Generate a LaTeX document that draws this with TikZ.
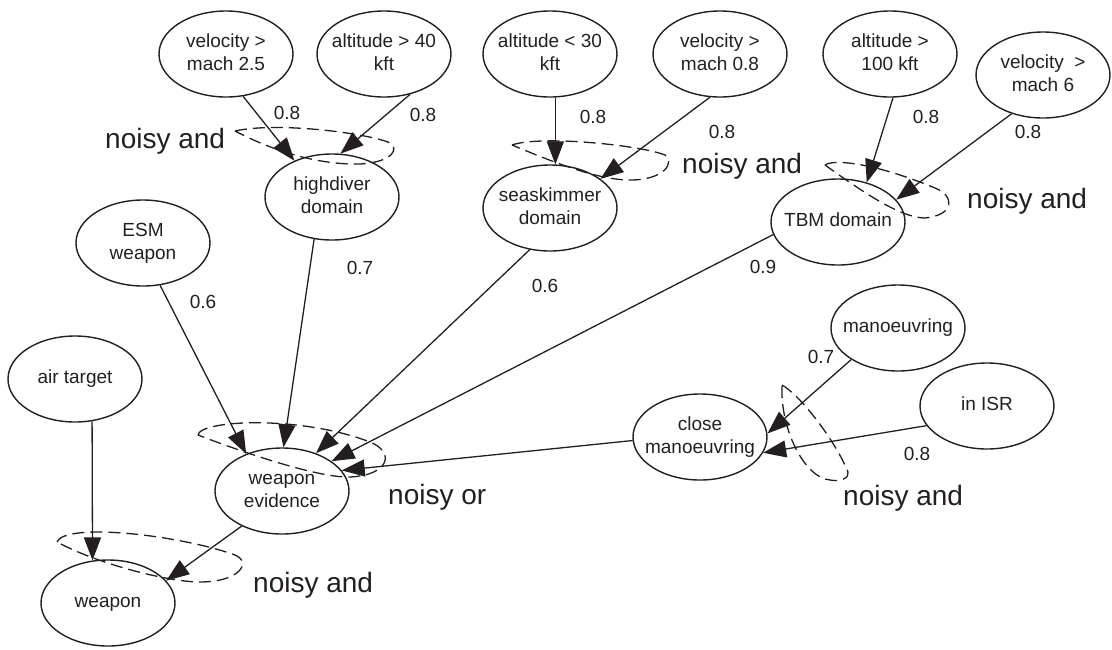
\documentclass[tikz,border=0pt]{standalone}
\usepackage{fontspec}
\setmainfont{Liberation Sans}
\usetikzlibrary{shapes.geometric,arrows.meta}
\definecolor{ink}{HTML}{231F20}
% two centred lines of zero width, so the ellipse keeps its fixed size
\newcommand{\twoline}[1]{\makebox[0pt]{\begin{tabular}{@{}c@{}}#1\end{tabular}}}

\tikzset{
  var/.style={ellipse, draw=ink, line width=1.4pt, minimum width=134pt,
    minimum height=86pt, inner sep=0pt, text=ink,
    font=\fontsize{19}{23}\selectfont},
  link/.style={draw=ink, line width=1.3pt, -{Triangle[length=23pt,width=17pt]}},
  prob/.style={font=\fontsize{19}{23}\selectfont, text=ink, inner sep=0pt},
  gate/.style={font=\fontsize{28}{32}\selectfont, text=ink, inner sep=0pt,
    anchor=base west},
  loop/.style={draw=ink, line width=1.3pt, dash pattern=on 12pt off 6pt},
}

\begin{document}
\begin{tikzpicture}[x=1pt,y=-1pt]
\useasboundingbox (0,0) rectangle (1112,649);

% variables
\node[var] (v25)  at (226,54)  {\twoline{velocity >\\mach 2.5}};
\node[var] (a40)  at (384,54)  {\twoline{altitude > 40\\kft}};
\node[var] (a30)  at (550,54)  {\twoline{altitude < 30\\kft}};
\node[var] (v08)  at (720,54)  {\twoline{velocity >\\mach 0.8}};
\node[var] (a100) at (890,54)  {\twoline{altitude >\\100 kft}};
\node[var] (v6)   at (1043,75) {\twoline{velocity\ \ >\\mach 6}};
\node[var] (hd)   at (332,197) {\twoline{highdiver\\domain}};
\node[var] (ss)   at (550,208) {\twoline{seaskimmer\\domain}};
\node[var] (tbm)  at (838,222) {\twoline{TBM domain}};
\node[var] (esm)  at (143,243) {\twoline{ESM\\weapon}};
\node[var] (air)  at (75,379)  {\twoline{air target}};
\node[var] (we)   at (282,491) {\twoline{weapon\\evidence}};
\node[var] (wp)   at (108,603) {\twoline{weapon}};
\node[var] (cm)   at (700,437) {\twoline{close\\manoeuvring}};
\node[var] (man)  at (898,328) {\twoline{manoeuvring}};
\node[var] (isr)  at (987,406) {\twoline{in ISR}};

% causal links
\draw[link] (v25.-68.4)  -- (hd.136.5);
\draw[link] (a40.-57.6)  -- (hd.79.2);
\draw[link] (a30.-83.4)  -- (ss.83.7);
\draw[link] (v08.-103.1) -- (ss.30.8);
\draw[link] (a100.-86)   -- (tbm.54);
\draw[link] (v6.-129.2)  -- (tbm.21.3);
\draw[link] (hd.-113.8)  -- (we.88.7);
\draw[link] (esm.-68.9)  -- (we.134.2);
\draw[link] (ss.-116.6)  -- (we.48.1);
\draw[link] (tbm.-169.8) -- (we.31.8);
\draw[link] (cm.-177.4)  -- (we.19.3);
\draw[link] (we.-139.4)  -- (wp.21.3);
\draw[link] (air.-68.9)  -- (wp.110.4);
\draw[link] (man.-146.3) -- (cm.3.4);
\draw[link] (isr.-162.1) -- (cm.-14.7);

% link strengths
\node[prob] (p1)  at (287,113) {0.8};
\node[prob] (p2)  at (423,115) {0.8};
\node[prob] (p3)  at (593,117) {0.8};
\node[prob] (p4)  at (722,132) {0.8};
\node[prob] (p5)  at (926,117) {0.8};
\node[prob] (p6)  at (1028,132) {0.8};
\node[prob] (p7)  at (360,268) {0.7};
\node[prob] (p8)  at (203,302) {0.6};
\node[prob] (p9)  at (545,286) {0.6};
\node[prob] (p10) at (763,267) {0.9};
\node[prob] (p11) at (821,357) {0.7};
\node[prob] (p12) at (917,454) {0.8};

% combination rules
\node[gate] (g1) at (105,148) {noisy and};
\node[gate] (g2) at (682,173) {noisy and};
\node[gate] (g3) at (967,208) {noisy and};
\node[gate] (g4) at (388,504) {noisy or};
\node[gate] (g5) at (253,592) {noisy and};
\node[gate] (g6) at (843,505) {noisy and};

% dashed loops grouping the combined links
\draw[loop] (235,131) .. controls (275,122) and (360,132) .. (388,142)
  .. controls (400,147) and (395,162) .. (360,164)
  .. controls (320,165) and (275,152) .. cycle;
\draw[loop] (512,145) .. controls (540,135) and (640,145) .. (665,155)
  .. controls (675,162) and (665,180) .. (630,180)
  .. controls (600,180) and (560,165) .. cycle;
\draw[loop] (825,165) .. controls (835,158) and (880,165) .. (935,188)
  .. controls (955,196) and (955,215) .. (925,218)
  .. controls (900,218) and (860,190) .. cycle;
\draw[loop] (198,435) .. controls (200,420) and (300,415) .. (370,442)
  .. controls (395,452) and (390,475) .. (350,477)
  .. controls (320,478) and (250,455) .. cycle;
\draw[loop] (57,542) .. controls (65,522) and (180,535) .. (235,555)
  .. controls (252,562) and (240,582) .. (200,582)
  .. controls (170,582) and (100,565) .. cycle;
\draw[loop] (782,385) .. controls (800,395) and (835,440) .. (848,472)
  .. controls (850,478) and (840,482) .. (830,480)
  .. controls (805,478) and (780,430) .. cycle;
\end{tikzpicture}
\end{document}
